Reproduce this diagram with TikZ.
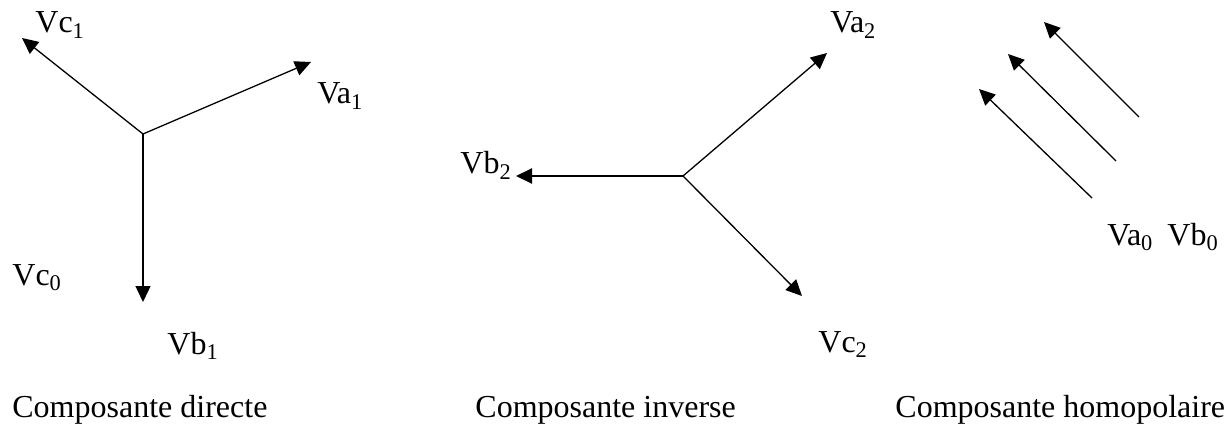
\documentclass[tikz,border=0pt]{standalone}
\usepackage{fontspec}
\setmainfont{Liberation Serif}
\usetikzlibrary{arrows.meta}

\begin{document}
\begin{tikzpicture}[x=0.5pt,y=-0.5pt,
    phasor/.style={line width=0.65pt,-{Triangle[length=8pt,width=7.5pt]}},
    lab/.style={anchor=base west,inner sep=0pt,font=\fontsize{16}{19}\selectfont}]
  \useasboundingbox (0,0) rectangle (1229,427);
  % composante directe
  \coordinate (o1) at (143,134);
  \coordinate (a1) at (311,62);
  \coordinate (b1) at (143,302);
  \coordinate (c1) at (22,38);
  \draw[phasor] (o1) -- (a1);
  \draw[phasor] (o1) -- (b1);
  \draw[phasor] (o1) -- (c1);
  \node[lab] (va1) at (317,104) {Va\textsubscript{1}};
  \node[lab] (vb1) at (167,354) {Vb\textsubscript{1}};
  \node[lab] (vc1) at (35,33) {Vc\textsubscript{1}};
  \node[lab] (vc0) at (12,285) {Vc\textsubscript{0}};
  \node[lab] (t1) at (12,417) {Composante directe};
  % composante inverse
  \coordinate (o2) at (683,176);
  \coordinate (a2) at (827,53);
  \coordinate (b2) at (516,176);
  \coordinate (c2) at (802,296);
  \draw[phasor] (o2) -- (a2);
  \draw[phasor,line width=1pt] (o2) -- (b2);
  \draw[phasor] (o2) -- (c2);
  \node[lab] (va2) at (830,33) {Va\textsubscript{2}};
  \node[lab] (vb2) at (460,174) {Vb\textsubscript{2}};
  \node[lab] (vc2) at (818,352) {Vc\textsubscript{2}};
  \node[lab] (t2) at (475,417) {Composante inverse};
  % composante homopolaire
  \foreach \n/\tx/\ty/\hx/\hy in {1/1092/198/979/89,2/1116/161/1008/54,3/1139/117/1044/22}{
    \coordinate (h\n) at (\tx,\ty);
    \coordinate (k\n) at (\hx,\hy);
    \draw[phasor] (h\n) -- (k\n);
  }
  \node[lab] (va0) at (1107,245) {Va\textsubscript{0}};
  \node[lab] (vb0) at (1167,245) {Vb\textsubscript{0}};
  \node[lab] (t3) at (895,417) {Composante homopolaire};
\end{tikzpicture}
\end{document}
